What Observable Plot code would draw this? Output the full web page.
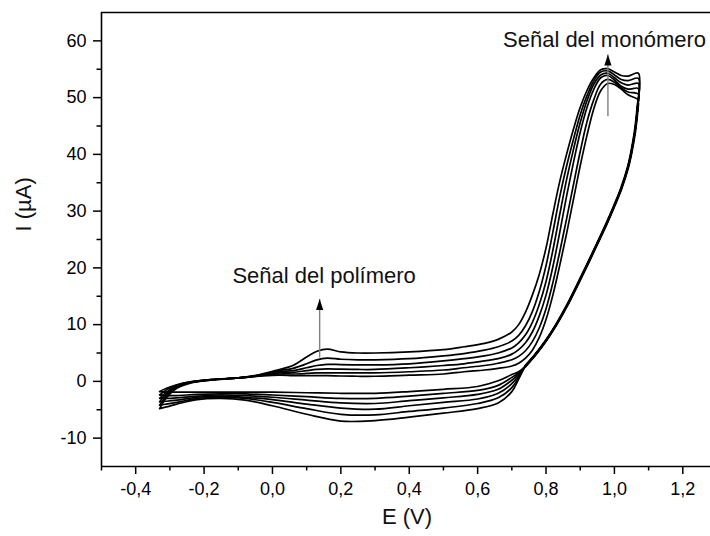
<!DOCTYPE html>
<html><head><meta charset="utf-8">
<script src="https://cdn.jsdelivr.net/npm/d3@7"></script>
<script src="https://cdn.jsdelivr.net/npm/@observablehq/plot@0.6"></script>
<style>body{margin:0;background:#fff}</style>
</head><body><div id="chart"></div>
<script>
// ---- data ----
const cycles = ["1", "2", "3", "4", "5", "6"];

// anodic (forward) scan potentials, V
const fwdE = [-0.33, -0.31, -0.28, -0.24, -0.18, -0.10, -0.04, 0.02, 0.06, 0.10, 0.13, 0.16, 0.20, 0.25, 0.30, 0.40, 0.50, 0.56, 0.62,
  0.66, 0.70, 0.72, 0.74, 0.76, 0.78, 0.80, 0.82, 0.84, 0.86, 0.88, 0.90, 0.92, 0.94, 0.96, 0.98, 1.00, 1.02, 1.04, 1.07];
const fwdI1 = [-1.8, -1.2, -0.6, -0.1, 0.3, 0.6, 0.9, 1.1, 1.0, 1.0, 1.0, 1.0, 0.95, 0.9, 0.9, 1.1, 1.3, 1.7, 2.0,
  2.3, 2.7, 3.2, 4.1, 5.5, 7.7, 10.9, 15.2, 20.4, 26.0, 32.0, 38.0, 43.4, 48.1, 51.2, 52.5, 52.3, 51.5, 50.5, 49.6];
const fwdI2 = [-2.4, -1.5, -0.7, -0.1, 0.3, 0.6, 0.95, 1.3, 1.3, 1.4, 1.5, 1.5, 1.5, 1.5, 1.5, 1.7, 2.0, 2.4, 2.8,
  3.2, 3.8, 4.4, 5.4, 7.0, 9.4, 12.8, 17.4, 22.8, 28.6, 34.6, 40.5, 45.8, 49.7, 52.4, 53.2, 52.7, 51.7, 51.0, 50.6];
const fwdI3 = [-3.0, -1.9, -0.8, -0.15, 0.3, 0.6, 1.0, 1.5, 1.6, 1.9, 2.1, 2.2, 2.15, 2.1, 2.1, 2.4, 2.8, 3.1, 3.6,
  4.0, 4.8, 5.6, 6.8, 8.7, 11.5, 15.2, 20.2, 26.2, 32.6, 38.5, 43.9, 48.3, 51.5, 53.5, 53.9, 53.1, 52.0, 51.5, 51.6];
const fwdI4 = [-3.6, -2.2, -0.9, -0.2, 0.25, 0.6, 1.05, 1.7, 1.9, 2.4, 2.8, 3.0, 2.95, 2.9, 2.9, 3.1, 3.6, 4.0, 4.5,
  5.0, 5.9, 6.8, 8.2, 10.4, 13.5, 17.6, 23.1, 29.4, 35.5, 40.8, 45.6, 49.5, 52.4, 54.0, 54.3, 53.5, 52.6, 52.2, 52.5];
const fwdI5 = [-4.2, -2.6, -1.0, -0.2, 0.25, 0.6, 1.1, 1.9, 2.3, 3.1, 3.8, 4.1, 3.9, 3.8, 3.8, 4.0, 4.5, 4.9, 5.5,
  6.1, 7.1, 8.1, 9.8, 12.3, 15.8, 20.4, 26.3, 32.5, 37.9, 42.6, 47.0, 50.4, 53.0, 54.5, 54.7, 54.0, 53.2, 53.0, 53.4];
const fwdI6 = [-4.8, -2.9, -1.2, -0.3, 0.2, 0.6, 1.15, 2.1, 2.8, 4.3, 5.3, 5.7, 5.2, 5.0, 5.0, 5.2, 5.6, 6.1, 6.7,
  7.4, 8.7, 10.0, 12.2, 15.2, 18.8, 23.5, 29.5, 35.2, 40.0, 44.4, 48.3, 51.3, 53.5, 54.9, 55.1, 54.5, 53.9, 53.8, 54.3];

// cathodic (reverse) scan, high-potential part shared by all cycles
const revE = [1.069, 1.065, 1.06, 1.05, 1.04, 1.02, 1.00, 0.98, 0.95, 0.92, 0.89, 0.86, 0.83, 0.80, 0.77, 0.74];
const revI = [49.0, 46.5, 44.0, 40.5, 37.8, 34.0, 31.0, 28.2, 24.3, 20.5, 16.8, 13.2, 10.0, 7.2, 4.8, 2.7];

// cathodic scan, low-potential part per cycle
const lowE = [0.72, 0.70, 0.66, 0.60, 0.50, 0.40, 0.30, 0.20, 0.10, 0.00, -0.08, -0.15, -0.22, -0.28, -0.31, -0.33];
const lowI1 = [1.7, 1.2, 0.1, -0.9, -1.4, -1.8, -2.1, -2.1, -2.0, -1.9, -1.9, -1.9, -1.9, -1.9, -1.9, -1.8];
const lowI2 = [1.5, 0.7, -0.7, -1.6, -2.1, -2.6, -3.0, -3.0, -2.7, -2.4, -2.2, -2.2, -2.3, -2.5, -2.5, -2.4];
const lowI3 = [1.3, 0.2, -1.4, -2.3, -2.9, -3.4, -3.9, -3.8, -3.3, -2.8, -2.5, -2.4, -2.6, -2.9, -3.0, -3.0];
const lowI4 = [1.0, -0.4, -2.1, -3.1, -3.7, -4.3, -4.9, -4.7, -4.0, -3.2, -2.8, -2.6, -2.8, -3.3, -3.5, -3.6];
const lowI5 = [0.7, -1.1, -2.9, -3.9, -4.7, -5.3, -5.9, -5.8, -4.8, -3.7, -3.0, -2.8, -3.0, -3.7, -4.0, -4.2];
const lowI6 = [0.4, -1.8, -3.8, -4.8, -5.6, -6.3, -6.9, -7.0, -5.8, -4.3, -3.3, -3.0, -3.2, -4.0, -4.5, -4.8];

// axes
const xTicks = [-0.4, -0.2, 0.0, 0.2, 0.4, 0.6, 0.8, 1.0, 1.2];
const xMinor = [-0.5, -0.3, -0.1, 0.1, 0.3, 0.5, 0.7, 0.9, 1.1];
const yTicks = [-10, 0, 10, 20, 30, 40, 50, 60];
const yMinor = [-5, 5, 15, 25, 35, 45, 55];
const xLabel = "E (V)";
const yLabel = "I (\u00b5A)";

// annotations
const noteText = ["Señal del polímero", "Señal del monómero"];
const noteE = [0.151, 0.971];
const noteI = [18.6, 60.2];
const arrowE = [0.138, 0.981];
const arrowFrom = [4.2, 46.7];
const arrowTo = [14.5, 57.6];

// ---- build tables ----
const fwdI = [fwdI1, fwdI2, fwdI3, fwdI4, fwdI5, fwdI6];
const lowI = [lowI1, lowI2, lowI3, lowI4, lowI5, lowI6];
const data = [];
cycles.forEach((c, k) => {
  fwdE.forEach((e, i) => data.push({cycle: c, E: e, I: fwdI[k][i]}));
  revE.forEach((e, i) => data.push({cycle: c, E: e, I: revI[i]}));
  lowE.forEach((e, i) => data.push({cycle: c, E: e, I: lowI[k][i]}));
});
const revData = revE.map((e, i) => ({E: e, I: revI[i]}));
const notes = noteText.map((t, i) => ({t, E: noteE[i], I: noteI[i]}));
const arrows = arrowE.map((e, i) => ({E: e, I1: arrowFrom[i], I2: arrowTo[i]}));
const fmt = d => d3.format(".1f")(d).replace(".", ",").replace("\u2212", "-");
const fmtY = d => String(d);

const font = "'Liberation Sans', Arial, Helvetica, sans-serif";
const chart = Plot.plot({
  width: 710, height: 536,
  marginLeft: 101, marginRight: 0, marginTop: 12, marginBottom: 70,
  style: {fontFamily: font, fontSize: "18px", color: "#000", background: "#fff"},
  x: {domain: [-0.5, 1.281]},
  y: {domain: [-15, 65]},
  marks: [
    Plot.line(data, {x: "E", y: "I", z: "cycle", curve: "catmull-rom", stroke: "#000", strokeWidth: 1.7}),
    Plot.line(revData, {x: "E", y: "I", curve: "catmull-rom", stroke: "#000", strokeWidth: 2.8}),
    Plot.link(arrows, {x1: "E", x2: "E", y1: "I1", y2: "I2", stroke: "#808080", strokeWidth: 1.4}),
    Plot.vector(arrows, {x: "E", y: "I2", length: 11, r: 3.6, rotate: 0, anchor: "end", shape: "spike", fill: "#000", fillOpacity: 1, stroke: "none"}),
    Plot.text(notes, {x: "E", y: "I", text: "t", fontSize: 22, fill: "#111", textAnchor: "middle"}),
    Plot.ruleY([65], {stroke: "#000", strokeWidth: 1.6}),
    Plot.ruleY([-15], {stroke: "#000", strokeWidth: 1.6}),
    Plot.ruleX([-0.5], {stroke: "#000", strokeWidth: 1.6}),
    Plot.axisX({ticks: xTicks, tickSize: 8, tickPadding: 8, tickFormat: fmt, label: null, strokeWidth: 1.5, fontSize: 18}),
    Plot.axisX({ticks: xMinor, tickSize: 4.5, tickFormat: () => "", label: null, strokeWidth: 1.5}),
    Plot.axisY({ticks: yTicks, tickSize: 8, tickPadding: 7, tickFormat: fmtY, label: null, strokeWidth: 1.5, fontSize: 18}),
    Plot.axisY({ticks: yMinor, tickSize: 4.5, tickFormat: () => "", label: null, strokeWidth: 1.5}),
    Plot.text([xLabel], {frameAnchor: "bottom", text: d => d, dy: 57, dx: 1, fontSize: 22, fill: "#111"}),
    Plot.text([yLabel], {frameAnchor: "left", text: d => d, dx: -78, dy: -8, rotate: -90, fontSize: 22, fill: "#111"})
  ]
});
document.getElementById("chart").appendChild(chart);
</script>
</body></html>
